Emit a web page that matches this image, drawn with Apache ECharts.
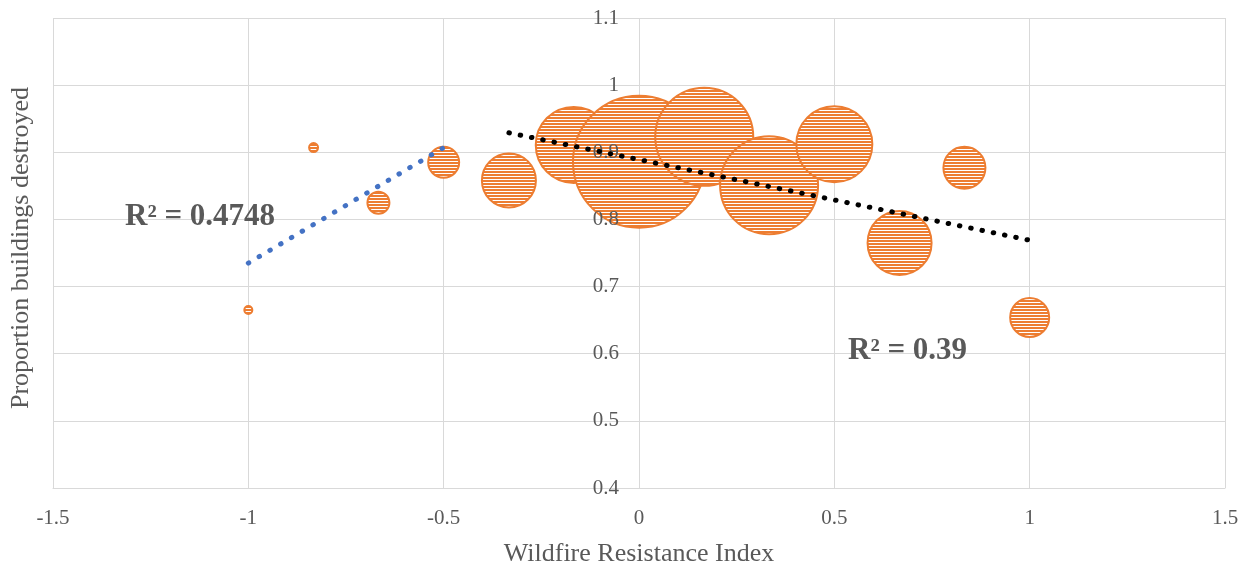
<!DOCTYPE html>
<html>
<head>
<meta charset="utf-8">
<script src="https://cdn.jsdelivr.net/npm/echarts@6/dist/echarts.min.js"></script>
<style>
  html, body { margin: 0; padding: 0; background: #fff; }
  #chart { width: 1250px; height: 569px; }
</style>
</head>
<body>
<div id="chart"></div>
<script>
// Wildfire resistance index vs. share of buildings destroyed (bubble = building count)
const resistanceIndex = [-1, -0.833, -0.667, -0.5, -0.333, -0.167, 0, 0.167, 0.333, 0.5, 0.667, 0.833, 1];
const propDestroyed   = [0.665, 0.907, 0.825, 0.885, 0.858, 0.911, 0.886, 0.923, 0.851, 0.912, 0.765, 0.877, 0.654];
const bubbleWeight    = [25, 30, 144, 272, 784, 1521, 4489, 2500, 2500, 1521, 1089, 484, 420];

// Linear trendlines (endpoints) and their fit statistics
const trendLowX  = [-1, -0.5];
const trendLowY  = [0.735, 0.907];
const trendHighX = [-0.333, 1];
const trendHighY = [0.929, 0.769];
const r2Low  = '0.4748';
const r2High = '0.39';

const xTicks = { min: -1.5, max: 1.5, step: 0.5 };
const yTicks = { min: 0.4, max: 1.1, step: 0.1 };

const ORANGE = '#ED7D31';
const TEXT = '#595959';
const GRID = '#D9D9D9';
const FONT = '"Liberation Serif", "Times New Roman", serif';
const GRID_LEFT = 53;

// horizontal-stripe fill for the bubbles
const hatch = document.createElement('canvas');
hatch.width = 4; hatch.height = 3;
const hctx = hatch.getContext('2d');
hctx.fillStyle = '#ffffff';
hctx.fillRect(0, 0, 4, 3);
hctx.fillStyle = ORANGE;
hctx.fillRect(0, 0, 4, 2);
const hatchFill = { image: hatch, repeat: 'repeat' };

const bubbles = resistanceIndex.map((x, i) => [x, propDestroyed[i], bubbleWeight[i]]);
const lowLine = trendLowX.map((x, i) => [x, trendLowY[i]]);
const highLine = trendHighX.map((x, i) => [x, trendHighY[i]]);

const chart = echarts.init(document.getElementById('chart'), null, { renderer: 'canvas' });

const fmt = v => String(Math.round(v * 10) / 10);

// bubble area proportional to weight; outer radius = sqrt(weight)
function renderBubble(params, api) {
  const p = api.coord([api.value(0), api.value(1)]);
  const r = Math.sqrt(api.value(2)) - 1;
  return {
    type: 'circle',
    shape: { cx: p[0], cy: p[1], r: r },
    style: { fill: hatchFill, stroke: ORANGE, lineWidth: 2 }
  };
}

chart.setOption({
  animation: false,
  backgroundColor: '#ffffff',
  grid: { left: GRID_LEFT, right: 25, top: 18, bottom: 81, outerBoundsMode: 'none' },
  xAxis: {
    type: 'value',
    min: xTicks.min, max: xTicks.max, interval: xTicks.step,
    name: 'Wildfire Resistance Index',
    nameLocation: 'middle',
    nameGap: 53,
    nameTextStyle: { fontFamily: FONT, fontSize: 26, color: TEXT },
    axisLine: { show: true, onZero: false, lineStyle: { color: GRID, width: 1 } },
    axisTick: { show: false },
    axisLabel: { fontFamily: FONT, fontSize: 21, color: TEXT, margin: 20, formatter: fmt },
    splitLine: { show: true, lineStyle: { color: GRID, width: 1 } }
  },
  yAxis: [
    {
      type: 'value',
      position: 'left',
      min: yTicks.min, max: yTicks.max, interval: yTicks.step,
      name: 'Proportion buildings destroyed',
      nameLocation: 'middle',
      nameGap: 19,
      nameTextStyle: { fontFamily: FONT, fontSize: 26, color: TEXT, padding: [0, 0, 0, 10] },
      axisLine: { show: false, onZero: false },
      axisTick: { show: false },
      axisLabel: { show: false },
      splitLine: { show: true, lineStyle: { color: GRID, width: 1 } }
    },
    {
      // value labels placed along the x = 0 line, above the bubbles
      type: 'value',
      position: 'left',
      z: 3,
      offset: 0,
      min: yTicks.min, max: yTicks.max, interval: yTicks.step,
      axisLine: { show: false, onZero: false },
      axisTick: { show: false },
      axisLabel: { fontFamily: FONT, fontSize: 21, color: TEXT, margin: 20, formatter: fmt },
      splitLine: { show: false }
    }
  ],
  series: [
    {
      type: 'custom',
      z: 2,
      data: bubbles,
      encode: { x: 0, y: 1 },
      renderItem: renderBubble,
      emphasis: { disabled: true }
    },
    {
      type: 'line',
      z: 4,
      data: lowLine,
      symbol: 'none',
      lineStyle: { color: '#4472C4', width: 5, type: [0.5, 12], cap: 'round' }
    },
    {
      type: 'line',
      z: 4,
      data: highLine,
      symbol: 'none',
      lineStyle: { color: '#000000', width: 5, type: [0.5, 11], cap: 'round' }
    }
  ],
  graphic: [
    {
      type: 'text', left: 125, top: 201, z: 10,
      style: { text: 'R² = ' + r2Low, fontFamily: FONT, fontSize: 31, fontWeight: 'bold', fill: TEXT }
    },
    {
      type: 'text', left: 848, top: 335, z: 10,
      style: { text: 'R² = ' + r2High, fontFamily: FONT, fontSize: 31, fontWeight: 'bold', fill: TEXT }
    }
  ]
});

// move the value-label axis onto x = 0 of the horizontal scale
const zeroPx = chart.convertToPixel({ xAxisIndex: 0 }, 0);
chart.setOption({ yAxis: [{}, { offset: -(zeroPx - GRID_LEFT) }] });
</script>
</body>
</html>
